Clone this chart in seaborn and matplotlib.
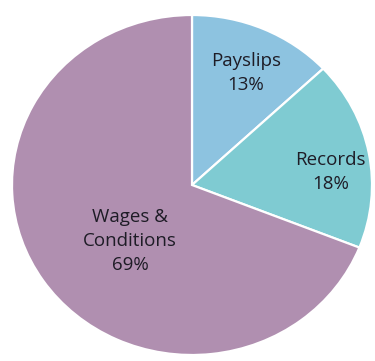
import matplotlib
matplotlib.use("Agg")
import matplotlib.pyplot as plt
import seaborn as sns

# Share of queries by topic
categories = ["Payslips", "Records", "Wages &\nConditions"]
shares = [13, 18, 69]
slice_colors = ["#8dc3e0", "#7fcbd2", "#b08fb0"]

# label anchor points (pie radius = 1)
label_xy = [(0.30, 0.66), (0.77, 0.076), (-0.344, -0.33)]

sns.set_theme(style="white")
plt.rcParams["font.family"] = ["Open Sans", "DejaVu Sans"]

fig = plt.figure(figsize=(3.75, 3.61), dpi=100)
fig.patch.set_facecolor("white")
# the pie is drawn slightly wider than tall
cx, cy, rx, ry = 192, 185, 180, 170
W, H = 375, 361
ax = fig.add_axes([(cx - rx) / W, (H - cy - ry) / H, 2 * rx / W, 2 * ry / H])

palette = sns.color_palette(slice_colors)
wedges, _ = ax.pie(
    shares,
    colors=palette,
    startangle=90,
    counterclock=False,
    radius=1.0,
    wedgeprops=dict(edgecolor="white", linewidth=1.6),
)
ax.set_aspect("auto")
ax.set_xlim(-1.0, 1.0)
ax.set_ylim(-1.0, 1.0)
ax.axis("off")

for name, val, (x, y) in zip(categories, shares, label_xy):
    ax.text(x, y, f"{name}\n{val}%", ha="center", va="center",
            fontsize=13.5, color="#1e1c26", linespacing=1.42)

fig.savefig("out.png", dpi=100, facecolor="white")
